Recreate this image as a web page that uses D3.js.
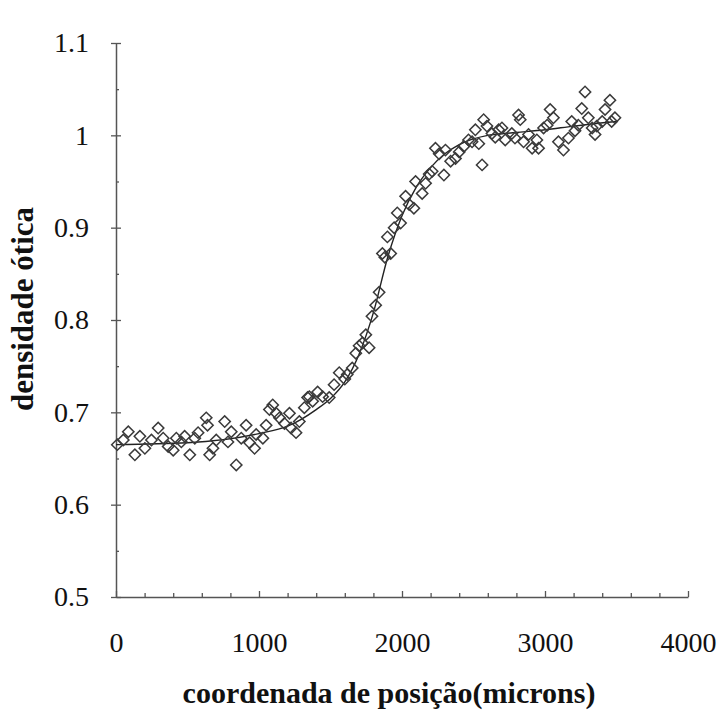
<!DOCTYPE html>
<meta charset="utf-8">
<head>
  <meta charset="UTF-8">
  <title>densidade ótica</title>
  <style>
    body { margin: 0; background: #fff; }
    .domain { stroke: #555; stroke-width: 1.5; }
    .tick line { stroke: #555; stroke-width: 1.3; }
  </style>
</head>
<body>
<script src="https://d3js.org/d3.v7.min.js"></script>
<div id="chart"></div>
<script>

// measured points (microns, optical density)
var posX = [9, 51, 86, 132, 167, 202, 248, 295, 330, 365, 400, 422, 457, 480, 516, 551, 574, 631, 640, 655,
  678, 701, 760, 783, 806, 841, 876, 910, 934, 969, 980, 1027, 1050, 1073, 1096, 1120, 1143, 1178, 1213, 1224,
  1259, 1282, 1317, 1340, 1352, 1375, 1410, 1445, 1491, 1525, 1561, 1600, 1617, 1652, 1677, 1700, 1723, 1747, 1770, 1790,
  1816, 1840, 1863, 1880, 1898, 1921, 1945, 1967, 1990, 2025, 2050, 2083, 2095, 2141, 2165, 2190, 2211, 2234, 2260, 2293,
  2304, 2340, 2374, 2400, 2432, 2465, 2490, 2513, 2537, 2560, 2571, 2594, 2629, 2652, 2676, 2699, 2722, 2768, 2790, 2815,
  2827, 2850, 2885, 2910, 2943, 2955, 2990, 3015, 3036, 3059, 3094, 3129, 3164, 3187, 3210, 3233, 3257, 3280, 3303, 3330,
  3350, 3362, 3400, 3420, 3454, 3466, 3489];

var density = [0.665, 0.670, 0.679, 0.654, 0.674, 0.661, 0.670, 0.683, 0.672, 0.663, 0.659, 0.672, 0.668, 0.674, 0.654, 0.672, 0.678, 0.694, 0.686, 0.654,
  0.661, 0.670, 0.690, 0.668, 0.679, 0.643, 0.672, 0.686, 0.667, 0.661, 0.676, 0.672, 0.686, 0.703, 0.708, 0.699, 0.694, 0.688, 0.699, 0.683,
  0.678, 0.690, 0.705, 0.716, 0.717, 0.712, 0.722, 0.717, 0.716, 0.730, 0.743, 0.736, 0.741, 0.748, 0.764, 0.772, 0.775, 0.784, 0.770, 0.804,
  0.816, 0.830, 0.872, 0.868, 0.890, 0.872, 0.900, 0.916, 0.905, 0.934, 0.925, 0.921, 0.950, 0.937, 0.948, 0.958, 0.961, 0.986, 0.980, 0.957,
  0.984, 0.972, 0.975, 0.982, 0.988, 0.995, 0.993, 1.006, 0.991, 0.968, 1.017, 1.010, 1.002, 0.998, 1.006, 1.008, 0.995, 1.002, 0.997, 1.022,
  1.017, 0.993, 1.001, 0.986, 0.995, 0.986, 1.008, 1.011, 1.028, 1.019, 0.993, 0.984, 0.997, 1.015, 1.005, 1.011, 1.029, 1.047, 1.019, 1.008,
  1.001, 1.010, 1.015, 1.028, 1.038, 1.015, 1.019];

// fitted curve
var fitX = [0, 500, 1000, 1200, 1400, 1500, 1600, 1700, 1800, 1900, 2000, 2100, 2200, 2300, 2400, 2600, 2800, 3000, 3200, 3500];
var fitY = [0.665, 0.667, 0.677, 0.685, 0.703, 0.715, 0.733, 0.763, 0.808, 0.868, 0.913, 0.944, 0.965, 0.980, 0.990, 1.000, 1.003, 1.006, 1.010, 1.015];

var xTicks = [0, 1000, 2000, 3000, 4000];
var xMinor = [200, 400, 600, 800, 1200, 1400, 1600, 1800, 2200, 2400, 2600, 2800, 3200, 3400, 3600, 3800];
var yTicks = [0.5, 0.6, 0.7, 0.8, 0.9, 1.0, 1.1];
var yMinor = [0.55, 0.65, 0.75, 0.85, 0.95, 1.05];

var width = 721, height = 711;
var serif = "'Liberation Serif', Tinos, 'Times New Roman', Times, serif";

var x = d3.scaleLinear().domain([0, 4000]).range([116, 688]);
var y = d3.scaleLinear().domain([0.5, 1.1]).range([597, 43]);

var svg = d3.select("#chart").append("svg")
    .attr("width", width)
    .attr("height", height);

// axes
var yAxis = svg.append("g")
    .attr("transform", "translate(" + x(0) + ",0)")
    .call(d3.axisLeft(y).tickValues(yTicks).tickSizeInner(5).tickSizeOuter(0).tickPadding(22)
      .tickFormat(function(d) { return String(+d.toFixed(1)); }));
yAxis.selectAll(".tick line").attr("x1", 5);
yAxis.selectAll("text")
    .style("font-family", serif)
    .style("font-size", "28px")
    .style("fill", "#111");

svg.append("g")
    .attr("transform", "translate(" + x(0) + ",0)")
    .call(d3.axisLeft(y).tickValues(yMinor).tickSize(-3).tickFormat(""))
    .call(function(g) { g.select(".domain").remove(); });

var xAxis = svg.append("g")
    .attr("transform", "translate(0," + y(0.5) + ")")
    .call(d3.axisBottom(x).tickValues(xTicks).tickSizeInner(-6).tickSizeOuter(0).tickPadding(35)
      .tickFormat(d3.format("d")));
xAxis.selectAll("text")
    .style("font-family", serif)
    .style("font-size", "28px")
    .style("fill", "#111");

svg.append("g")
    .attr("transform", "translate(0," + y(0.5) + ")")
    .call(d3.axisBottom(x).tickValues(xMinor).tickSize(-4).tickFormat(""))
    .call(function(g) { g.select(".domain").remove(); });

// fitted line
var line = d3.line()
    .x(function(d, i) { return x(fitX[i]); })
    .y(function(d) { return y(d); })
    .curve(d3.curveMonotoneX);

svg.append("path")
    .datum(fitY)
    .attr("d", line)
    .attr("fill", "none")
    .attr("stroke", "#222")
    .attr("stroke-width", 1.4);

// diamonds
var diamond = d3.symbol().type(d3.symbolSquare).size(64);

svg.append("g").selectAll("path")
    .data(density)
    .enter().append("path")
      .attr("d", diamond)
      .attr("transform", function(d, i) {
        return "translate(" + x(posX[i]) + "," + y(d) + ")rotate(45)"; })
      .attr("fill", "none")
      .attr("stroke", "#3a3a3a")
      .attr("stroke-width", 1.5);

// titles
svg.append("text")
    .attr("x", 389)
    .attr("y", 703)
    .attr("text-anchor", "middle")
    .style("font-family", serif)
    .style("font-weight", "bold")
    .style("font-size", "30px")
    .style("fill", "#111")
    .text("coordenada de posição(microns)");

svg.append("text")
    .attr("transform", "translate(33,309)rotate(-90)")
    .attr("text-anchor", "middle")
    .style("font-family", serif)
    .style("font-weight", "bold")
    .style("font-size", "31px")
    .style("fill", "#111")
    .text("densidade ótica");

</script>
</body>
